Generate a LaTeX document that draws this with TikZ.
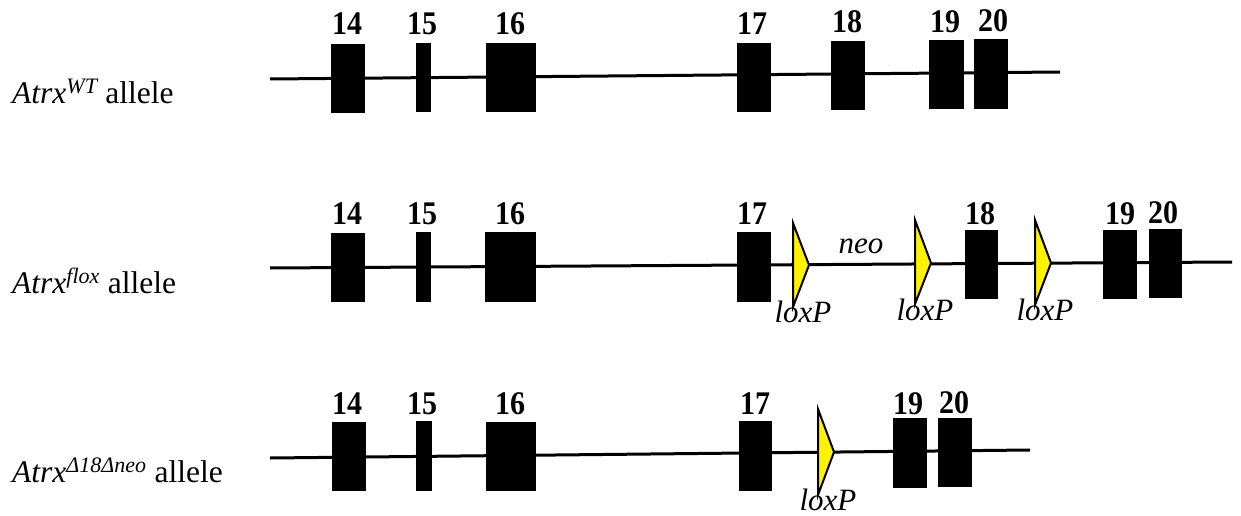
\documentclass[tikz,border=0pt]{standalone}
\usepackage{fontspec}
\setmainfont{Liberation Serif}
\newcommand\exnum[1]{\scalebox{1}[1.1]{#1}}
\begin{document}
\begin{tikzpicture}[x=1pt,y=-1pt,
  dna/.style={line width=3pt,black},
  exon/.style={fill=black,draw=none,inner sep=0pt,outer sep=0pt},
  num/.style={anchor=base,font=\fontsize{30}{32}\selectfont\bfseries,inner sep=0pt},
  lab/.style={anchor=base west,font=\fontsize{31.5}{36}\selectfont,inner sep=0pt},
  lox/.style={fill=yellow,draw=black,line width=2pt,line join=miter},
  loxlab/.style={anchor=base,font=\fontsize{31}{36}\selectfont\itshape,inner sep=0pt}]
\useasboundingbox (0,0) rectangle (1241,516);
% ---------- row 1: WT ----------
\node[lab] (l1) at (12,103) {\textit{Atrx}\textsuperscript{\itshape WT} allele};
\coordinate (r1a) at (270,79);
\coordinate (r1b) at (1060,72);
\draw[dna] (r1a) -- (r1b);
\node[exon,minimum width=34pt,minimum height=69pt] (r1x14) at (348,79) {};
\node[exon,minimum width=15pt,minimum height=69pt] (r1x15) at (423.5,77.5) {};
\node[exon,minimum width=50pt,minimum height=69pt] (r1x16) at (511,77.5) {};
\node[exon,minimum width=34pt,minimum height=69pt] (r1x17) at (754,77.5) {};
\node[exon,minimum width=34pt,minimum height=69pt] (r1x18) at (848,75.5) {};
\node[exon,minimum width=35pt,minimum height=69pt] (r1x19) at (946.5,74.5) {};
\node[exon,minimum width=34pt,minimum height=70pt] (r1x20) at (991,74) {};
\node[num] (r1n14) at (347,35) {\exnum{14}};
\node[num] (r1n15) at (422,35) {\exnum{15}};
\node[num] (r1n16) at (510,35) {\exnum{16}};
\node[num] (r1n17) at (752,35) {\exnum{17}};
\node[num] (r1n18) at (847,33) {\exnum{18}};
\node[num] (r1n19) at (945,33) {\exnum{19}};
\node[num] (r1n20) at (993,32) {\exnum{20}};
% ---------- row 2: flox ----------
\node[lab] (l2) at (12,293) {\textit{Atrx}\textsuperscript{\itshape flox} allele};
\coordinate (r2a) at (270,268);
\coordinate (r2b) at (1232,262);
\draw[dna] (r2a) -- (r2b);
\node[exon,minimum width=34pt,minimum height=69pt] (r2x14) at (348,267.5) {};
\node[exon,minimum width=15pt,minimum height=70pt] (r2x15) at (423.5,267) {};
\node[exon,minimum width=51pt,minimum height=70pt] (r2x16) at (510.5,267) {};
\node[exon,minimum width=34pt,minimum height=70pt] (r2x17) at (754,267) {};
\node[exon,minimum width=33pt,minimum height=69pt] (r2x18) at (981.5,264.5) {};
\node[exon,minimum width=34pt,minimum height=69pt] (r2x19) at (1120,264.5) {};
\node[exon,minimum width=33pt,minimum height=69pt] (r2x20) at (1165.5,263.5) {};
\draw[lox] (793,223) -- (809,265) -- (793,307) -- cycle;
\draw[lox] (915,220) -- (931,263) -- (915,304) -- cycle;
\draw[lox] (1035,220) -- (1051,263) -- (1035,305) -- cycle;
\node[num] (r2n14) at (347,224) {\exnum{14}};
\node[num] (r2n15) at (422,224) {\exnum{15}};
\node[num] (r2n16) at (510,224) {\exnum{16}};
\node[num] (r2n17) at (752,224) {\exnum{17}};
\node[num] (r2n18) at (980,224) {\exnum{18}};
\node[num] (r2n19) at (1120,224) {\exnum{19}};
\node[num] (r2n20) at (1163,223) {\exnum{20}};
\node[loxlab] (neo) at (861,253) {neo};
\node[loxlab] (r2p1) at (803,322) {loxP};
\node[loxlab] (r2p2) at (925,320) {loxP};
\node[loxlab] (r2p3) at (1045,320) {loxP};
% ---------- row 3: delta ----------
\node[lab] (l3) at (12,482) {\textit{Atrx}\textsuperscript{\itshape Δ18Δneo} allele};
\coordinate (r3a) at (270,458);
\coordinate (r3b) at (1030,450);
\draw[dna] (r3a) -- (r3b);
\node[exon,minimum width=34pt,minimum height=69pt] (r3x14) at (349,456.5) {};
\node[exon,minimum width=16pt,minimum height=70pt] (r3x15) at (424,456) {};
\node[exon,minimum width=50pt,minimum height=69pt] (r3x16) at (511,456.5) {};
\node[exon,minimum width=33pt,minimum height=70pt] (r3x17) at (755.5,456) {};
\node[exon,minimum width=34pt,minimum height=70pt] (r3x19) at (910,453) {};
\node[exon,minimum width=34pt,minimum height=69pt] (r3x20) at (955,452.5) {};
\draw[lox] (818,409) -- (834,452) -- (818,495) -- cycle;
\node[num] (r3n14) at (347,414) {\exnum{14}};
\node[num] (r3n15) at (422,414) {\exnum{15}};
\node[num] (r3n16) at (510,414) {\exnum{16}};
\node[num] (r3n17) at (755,414) {\exnum{17}};
\node[num] (r3n19) at (908,414) {\exnum{19}};
\node[num] (r3n20) at (954,413) {\exnum{20}};
\node[loxlab] (r3p) at (828,510) {loxP};
\end{tikzpicture}
\end{document}
